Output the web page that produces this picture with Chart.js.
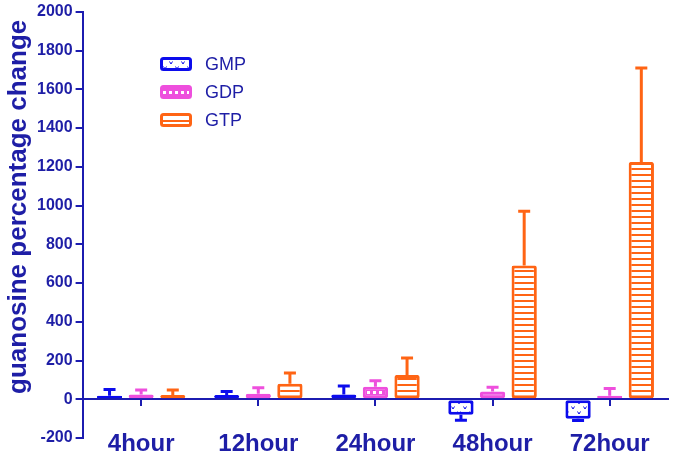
<!DOCTYPE html>
<html>
<head>
<meta charset="utf-8">
<script src="https://cdn.jsdelivr.net/npm/chart.js@4"></script>
<style>
  html, body { margin: 0; padding: 0; background: #fff; }
  #wrap { width: 675px; height: 457px; }
</style>
</head>
<body>
<div id="wrap"><canvas id="chart" width="675" height="457"></canvas></div>
<script>
(function() {
  'use strict';

  // ── Data ──
  const categories = ['4hour', '12hour', '24hour', '48hour', '72hour'];
  const seriesNames = ['GMP', 'GDP', 'GTP'];
  const gmpValues = [18, 22, 25, -80, -100];
  const gmpErrors = [32, 18, 43, 28, 10];
  const gdpValues = [25, 28, 65, 40, 18];
  const gdpErrors = [23, 32, 30, 22, 37];
  const gtpValues = [22, 80, 125, 690, 1225];
  const gtpErrors = [26, 55, 88, 280, 485];
  const yTicks = [-200, 0, 200, 400, 600, 800, 1000, 1200, 1400, 1600, 1800, 2000];

  const AXIS = '#1c1cb0';
  const TEXT = '#1e1ea6';
  const BLUE = '#0c0cec';
  const PINK = '#ee4fdd';
  const ORANGE = '#ff6414';
  const FONT = '"Liberation Sans", Arial, sans-serif';

  // ── Helpers ──
  function $(id) { return document.getElementById(id); }

  function tile(w, h, draw) {
    var c = document.createElement('canvas');
    c.width = w; c.height = h;
    var ctx = c.getContext('2d');
    draw(ctx);
    return ctx.createPattern(c, 'repeat');
  }

  // white with little "v" marks
  var gmpFill = tile(12, 10, function(ctx) {
    ctx.fillStyle = '#fff'; ctx.fillRect(0, 0, 12, 10);
    ctx.strokeStyle = BLUE; ctx.lineWidth = 1;
    ctx.beginPath();
    ctx.moveTo(1.5, 1.5); ctx.lineTo(3, 4); ctx.lineTo(4.5, 1.5);
    ctx.moveTo(7.5, 6.5); ctx.lineTo(9, 9); ctx.lineTo(10.5, 6.5);
    ctx.stroke();
  });

  // pink with white squares
  var gdpFill = tile(6, 6, function(ctx) {
    ctx.fillStyle = PINK; ctx.fillRect(0, 0, 6, 6);
    ctx.fillStyle = '#fff'; ctx.fillRect(1, 1, 3, 3);
  });

  // orange horizontal stripes
  var gtpFill = tile(6, 6, function(ctx) {
    ctx.fillStyle = '#fff'; ctx.fillRect(0, 0, 6, 6);
    ctx.fillStyle = ORANGE; ctx.fillRect(0, 0, 6, 2);
  });

  function dataset(label, values, errors, color, fill) {
    return {
      label: label,
      data: values,
      errors: errors,
      backgroundColor: fill,
      borderColor: color,
      borderWidth: 3,
      borderRadius: 2,
      borderSkipped: false,
      barPercentage: 0.8,
      categoryPercentage: 0.81
    };
  }

  // ── Error bars (one-sided, away from zero) ──
  var errorBars = {
    id: 'errorBars',
    afterDatasetsDraw: function(chart) {
      var ctx = chart.ctx, y = chart.scales.y;
      chart.data.datasets.forEach(function(ds, di) {
        var meta = chart.getDatasetMeta(di);
        meta.data.forEach(function(bar, i) {
          var v = ds.data[i];
          var end = v + (v < 0 ? -1 : 1) * ds.errors[i];
          var y0 = y.getPixelForValue(v), y1 = y.getPixelForValue(end);
          ctx.save();
          ctx.strokeStyle = ds.borderColor;
          ctx.lineWidth = 3;
          ctx.beginPath();
          ctx.moveTo(bar.x, y0); ctx.lineTo(bar.x, y1);
          ctx.moveTo(bar.x - 6, y1); ctx.lineTo(bar.x + 6, y1);
          ctx.stroke();
          ctx.restore();
        });
      });
    }
  };

  // ── Legend inside the plot ──
  var boxLegend = {
    id: 'boxLegend',
    afterDraw: function(chart) {
      var ctx = chart.ctx;
      chart.data.datasets.forEach(function(ds, i) {
        var top = 57 + i * 28;
        ctx.save();
        ctx.fillStyle = ds.backgroundColor;
        ctx.strokeStyle = ds.borderColor;
        ctx.lineWidth = 3;
        ctx.beginPath();
        ctx.roundRect(161.5, top + 1.5, 29, 11, 2);
        ctx.fill(); ctx.stroke();
        ctx.fillStyle = TEXT;
        ctx.font = '18px ' + FONT;
        ctx.textBaseline = 'middle';
        ctx.fillText(ds.label, 205, top + 8);
        ctx.restore();
      });
    }
  };

  // ── Chart ──
  new Chart($('chart'), {
    type: 'bar',
    data: {
      labels: categories,
      datasets: [
        dataset(seriesNames[0], gmpValues, gmpErrors, BLUE, gmpFill),
        dataset(seriesNames[1], gdpValues, gdpErrors, PINK, gdpFill),
        dataset(seriesNames[2], gtpValues, gtpErrors, ORANGE, gtpFill)
      ]
    },
    options: {
      responsive: false,
      animation: false,
      layout: { padding: { top: 0, right: 3, bottom: 19, left: 6 } },
      plugins: { legend: { display: false }, tooltip: { enabled: false } },
      scales: {
        x: {
          position: { y: 0 },
          offset: true,
          grid: { drawOnChartArea: false, offset: false, color: AXIS, lineWidth: 2, tickLength: 6 },
          border: { color: AXIS, width: 2 },
          ticks: {
            color: TEXT, padding: 25,
            font: { family: FONT, size: 24, weight: 'bold' }
          }
        },
        y: {
          min: -200, max: 2000,
          afterBuildTicks: function(axis) { axis.ticks = yTicks.map(function(v) { return { value: v }; }); },
          grid: { drawOnChartArea: false, color: AXIS, lineWidth: 2, tickLength: 7 },
          border: { color: AXIS, width: 2 },
          ticks: {
            color: TEXT, padding: 3,
            callback: function(v) { return String(v); },
            font: { family: FONT, size: 16, weight: 'bold', lineHeight: 1.1 }
          },
          title: {
            display: true, text: '     guanosine percentage change', color: TEXT,
            padding: { top: 0, bottom: 2 },
            font: { family: FONT, size: 26, weight: 'bold', lineHeight: 1 }
          }
        }
      }
    },
    plugins: [errorBars, boxLegend]
  });
})();
</script>
</body>
</html>
